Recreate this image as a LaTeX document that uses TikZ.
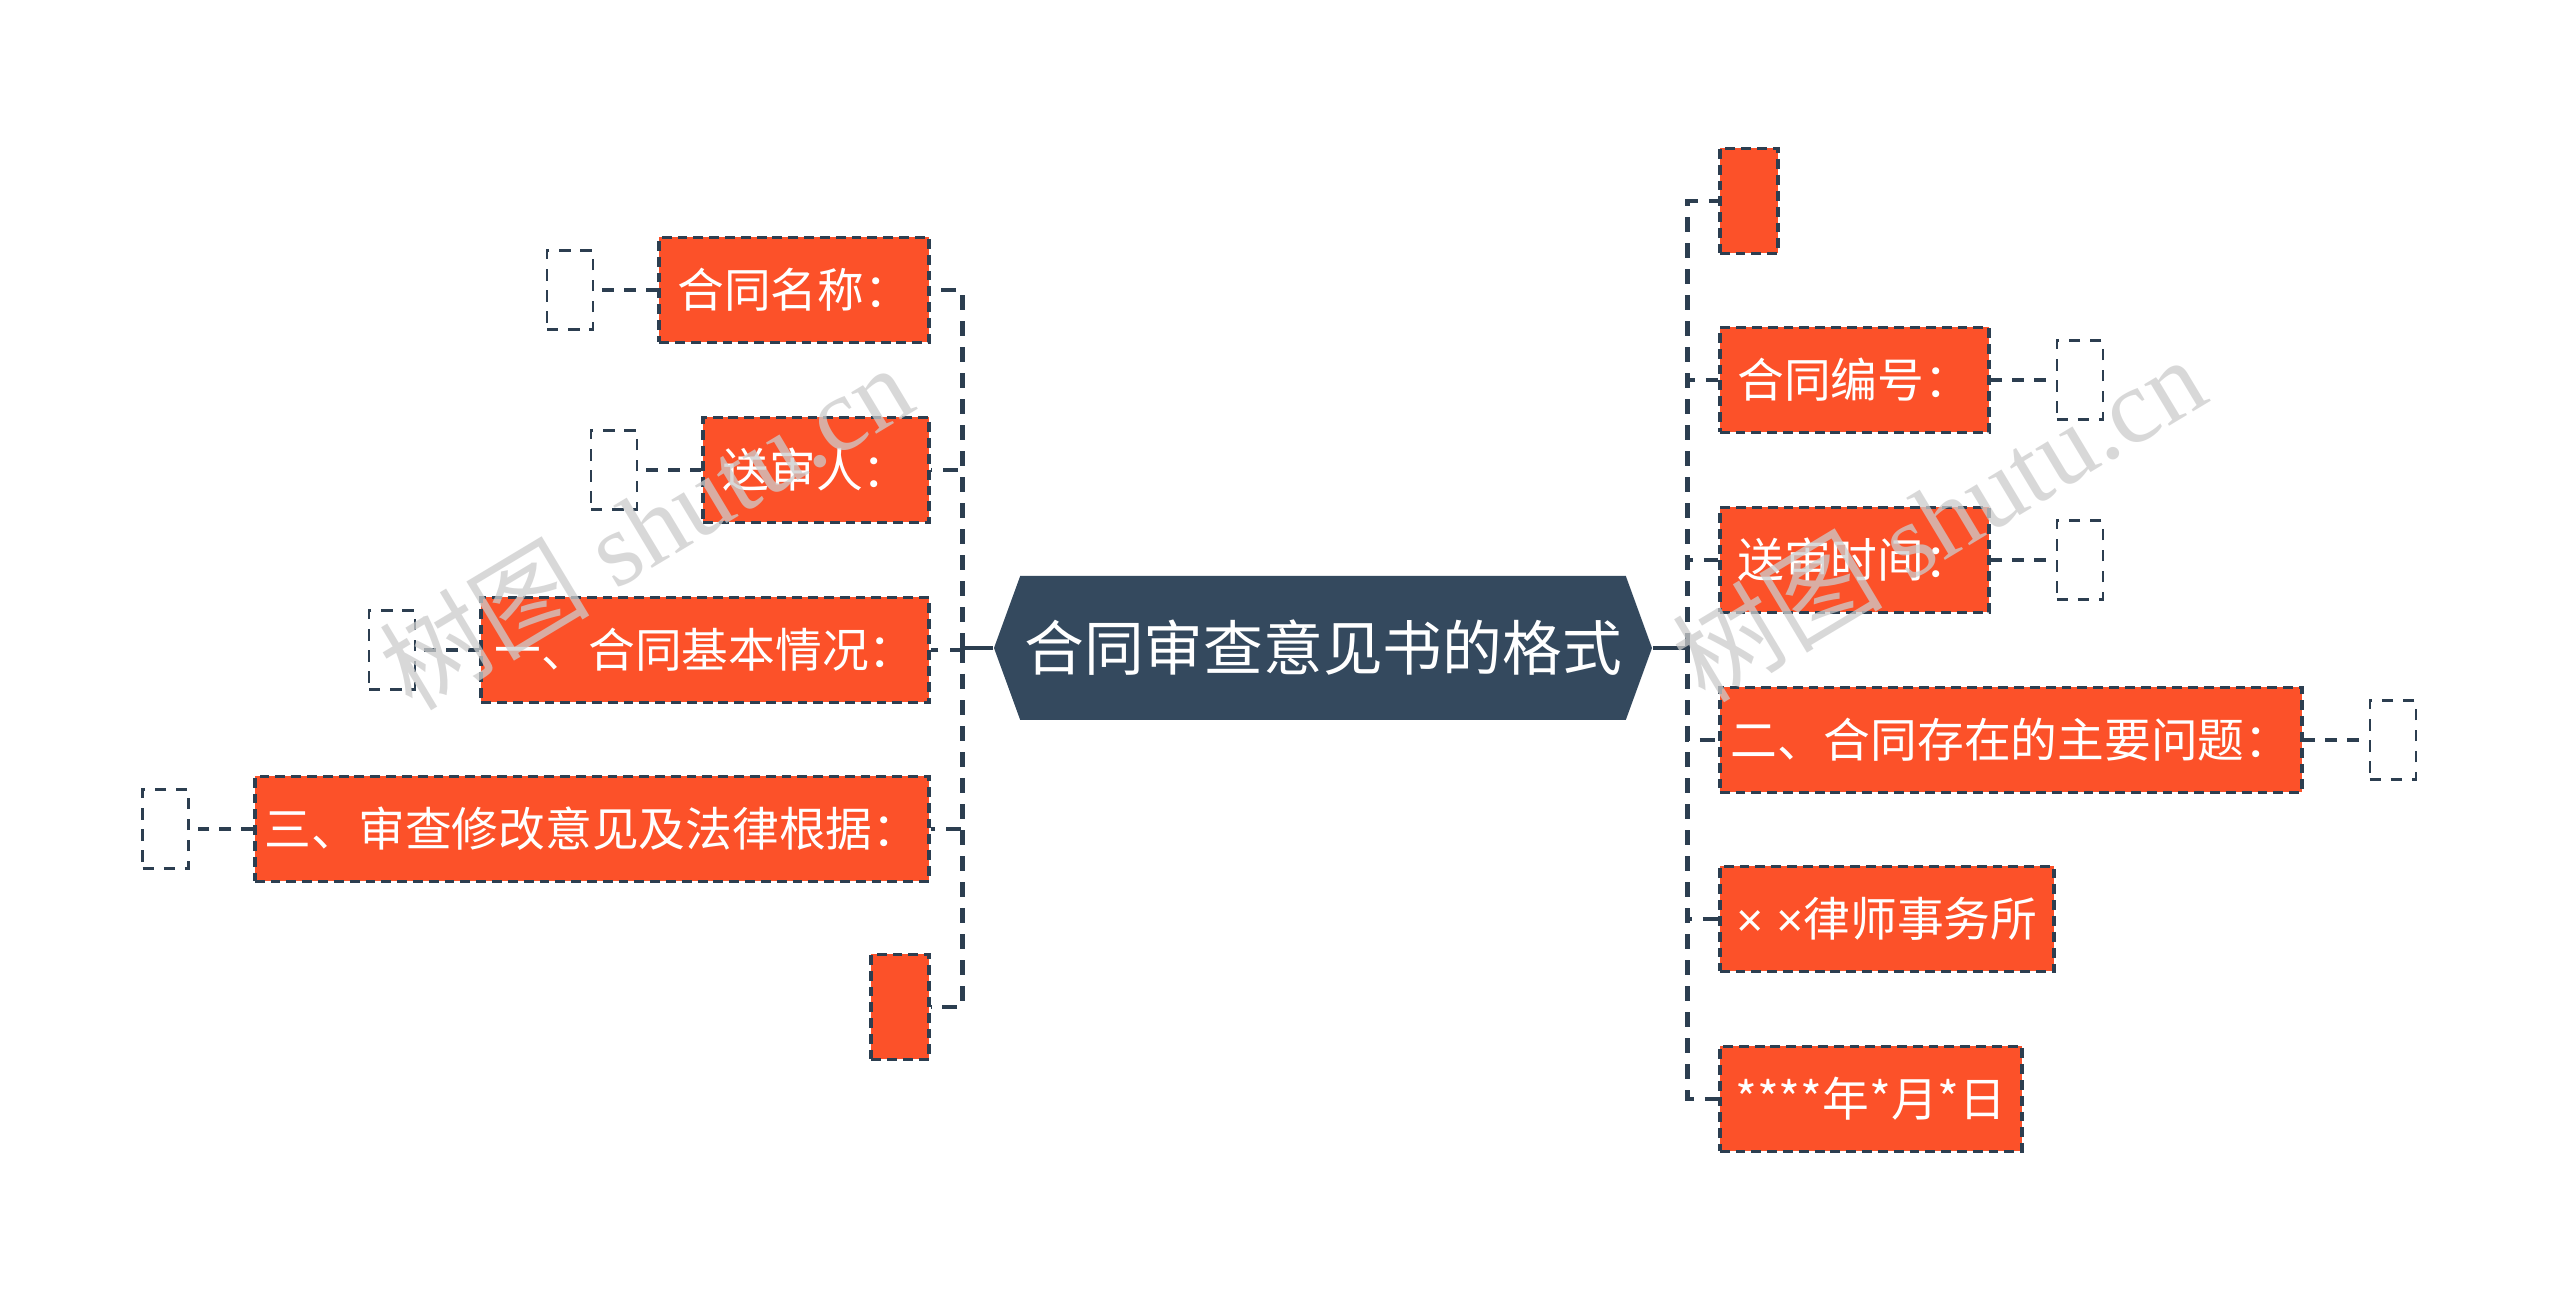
\documentclass[tikz,border=0pt]{standalone}
\usepackage{fontspec}
\setmainfont{Liberation Serif}
\newfontfamily\cjk{Noto Sans CJK SC}
\newfontfamily\latin{Liberation Sans}
\usetikzlibrary{positioning, shapes.symbols}

\definecolor{slate}{HTML}{34495E}
\definecolor{boxred}{HTML}{FC5129}
\definecolor{linkgray}{HTML}{2C3E50}

\begin{document}
\begin{tikzpicture}[
        node distance=0.63cm,
        topic/.style={shape=signal, signal to=west and east, signal pointer angle=140, fill=slate, text=white, font=\cjk\fontsize{17pt}{20pt}\selectfont, minimum height=1.44cm, minimum width=6.58cm, inner xsep=0pt},
        branch/.style={rectangle, draw=linkgray, line width=1pt, dash pattern=on 2.8pt off 1.7pt, fill=boxred, text=white, font=\cjk\fontsize{13.3pt}{16pt}\selectfont, minimum height=1.05cm, inner xsep=0.1cm},
        slot/.style={rectangle, draw=linkgray, line width=0.75pt, dash pattern=on 3.2pt off 2.8pt, minimum width=0.46cm, minimum height=0.79cm, inner sep=0pt},
        link/.style={draw=linkgray, line width=1.4pt, dash pattern=on 4.2pt off 3.2pt},
        twig/.style={draw=linkgray, line width=0.9pt, dash pattern=on 3.4pt off 2.8pt},
        wmark/.style={text=black!20, text opacity=0.75, font=\fontsize{30pt}{30pt}\selectfont}
    ]
    \useasboundingbox[fill=white] (0,0) rectangle (25.6,12.99);

    % Nodes
    \node[topic] (root) at (13.23,6.51) {合同审查意见书的格式};

    \node[branch, anchor=east, minimum width=2.70cm] (name) at (9.31,10.09) {合同名称：};
    \node[branch, anchor=east, minimum width=2.26cm] (sender) at (9.31,8.29) {送审人：};
    \node[branch, anchor=east, minimum width=4.48cm] (basic) at (9.31,6.49) {一、合同基本情况：};
    \node[branch, anchor=east, minimum width=6.71cm] (advice) at (9.31,4.70) {三、审查修改意见及法律根据：};
    \node[branch, anchor=east, minimum width=0.58cm] (lempty) at (9.31,2.92) {};

    \node[branch, anchor=west, minimum width=0.58cm] (rempty) at (17.18,10.98) {};
    \node[branch, anchor=west, minimum width=2.69cm] (number) at (17.18,9.19) {合同编号：};
    \node[branch, anchor=west, minimum width=2.69cm] (time) at (17.18,7.39) {送审时间：};
    \node[branch, anchor=west, minimum width=5.82cm] (issues) at (17.18,5.59) {二、合同存在的主要问题：};
    \node[branch, anchor=west, minimum width=3.34cm] (firm) at (17.18,3.80) {{\latin × ×}律师事务所};
    \node[branch, anchor=west, minimum width=3.02cm] (date) at (17.18,2.00) {****年*月*日};

    \node[slot, left=of name] (name-s) {};
    \node[slot, left=of sender] (sender-s) {};
    \node[slot, left=of basic] (basic-s) {};
    \node[slot, left=of advice] (advice-s) {};
    \node[slot, right=0.65cm of number] (number-s) {};
    \node[slot, right=0.65cm of time] (time-s) {};
    \node[slot, right=0.65cm of issues] (issues-s) {};

    % Connectors
    \coordinate (ljoint) at ([xshift=-0.31cm]root.west);
    \coordinate (rjoint) at ([xshift=0.35cm]root.east);
    \draw[link, solid] (root.west) -- (ljoint);
    \draw[link, solid] (root.east) -- (rjoint);
    \foreach \n in {name, sender, basic, advice, lempty}
        \draw[link] (ljoint) |- (\n.east);
    \foreach \n in {rempty, number, time, issues, firm, date}
        \draw[link] (rjoint) |- (\n.west);
    \foreach \n in {name, sender, basic, advice}
        \draw[twig] (\n.west) -- (\n-s.east);
    \foreach \n in {number, time, issues}
        \draw[twig] (\n.east) -- (\n-s.west);

    % Watermark
    \node[wmark, rotate=31] (wm-left) at (6.45,7.73) {{\cjk 树图} shutu.cn};
    \node[wmark, rotate=31] (wm-right) at (19.38,7.81) {{\cjk 树图} shutu.cn};
\end{tikzpicture}
\end{document}
